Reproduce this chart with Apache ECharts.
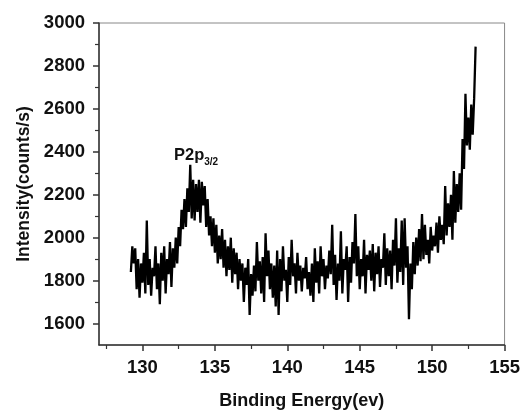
<!DOCTYPE html>
<html>
<head>
<meta charset="utf-8">
<script src="https://cdn.jsdelivr.net/npm/echarts@6/dist/echarts.min.js"></script>
<style>html,body{margin:0;padding:0;background:#fff}#c{width:523px;height:415px}</style>
</head>
<body>
<div id="c"></div>
<script>
// Binding energy start and step (eV)
var energyStart = 129.2;
var energyStep = 0.1;
// Intensity (counts/s), 129.2 .. 153.0 eV
var intensity = [
  1840, 1960, 1880, 1950, 1760, 1900, 1720, 1880,
  1790, 1930, 1740, 2080, 1780, 1900, 1730, 1860, 1820, 1960,
  1760, 1880, 1690, 1930, 1800, 1960, 1740, 1900, 1830, 1980,
  1770, 1950, 1860, 2000, 1880, 2050, 1960, 2130, 2040, 2180,
  2050, 2230, 2120, 2340, 2090, 2270, 2080, 2250, 2120, 2270,
  2070, 2260, 2150, 2240, 2050, 2180, 2010, 2100, 1960, 2090,
  1930, 2060, 1880, 2010, 1900, 2040, 1860, 1990, 1820, 1960,
  1850, 2000, 1790, 1950, 1830, 1930, 1760, 1900, 1800, 1880,
  1700, 1860, 1780, 1900, 1640, 1830, 1730, 1870, 1750, 1980,
  1800, 1890, 1740, 1910, 1700, 2020, 1820, 1940, 1760, 1880,
  1720, 1870, 1680, 1940, 1640, 1900, 1750, 1960, 1800, 1850,
  1700, 1910, 1780, 1990, 1820, 1880, 1740, 1930, 1800, 1870,
  1750, 1860, 1810, 1910, 1760, 1840, 1730, 1880, 1700, 1950,
  1790, 1890, 1740, 1960, 1820, 1900, 1760, 1870, 1810, 1940,
  1830, 2060, 1780, 1920, 1710, 1880, 1800, 2030, 1740, 1900,
  1850, 1960, 1700, 1910, 1790, 1980, 1880, 2110, 1820, 1960,
  1760, 1900, 1820, 1990, 1740, 1920, 1850, 1940, 1800, 1970,
  1750, 1930, 1830, 1960, 1770, 1900, 1860, 2020, 1780, 1950,
  1820, 1940, 1760, 1990, 1870, 2090, 1790, 1950, 1840, 2080,
  1780, 2090, 1860, 1960, 1620, 1880, 1760, 1980, 1830, 2000,
  1870, 2040, 1890, 2110, 1900, 2060, 1920, 1990, 1880, 2050,
  1940, 2010, 1960, 2070, 1930, 2100, 1990, 2060, 1970, 2240,
  2010, 2160, 2050, 2200, 1990, 2310, 2070, 2250, 2120, 2300,
  2130, 2460, 2320, 2670, 2430, 2560, 2410, 2620, 2480, 2650,
  2890
];
var xMajorTicks = [130, 135, 140, 145, 150, 155];
var xMinorTicks = [127.5, 132.5, 137.5, 142.5, 147.5, 152.5];
var yMajorTicks = [1600, 1800, 2000, 2200, 2400, 2600, 2800, 3000];
var yMinorTicks = [1700, 1900, 2100, 2300, 2500, 2700, 2900];
var xRange = [127, 155];
var yRange = [1500, 3000];
var peakLabel = 'P2p';
var peakSub = '3/2';
var xName = 'Binding Energy(ev)';
var yName = 'Intensity(counts/s)';

var points = intensity.map(function (v, i) {
  return [Math.round((energyStart + i * energyStep) * 100) / 100, v];
});

var FONT = '"Liberation Sans", Arial, sans-serif';
var plain = function (v) { return String(v); };
var chart = echarts.init(document.getElementById('c'), null, {renderer: 'canvas'});
chart.setOption({
  animation: false,
  backgroundColor: '#fff',
  grid: {left: 99, right: 17, top: 23, bottom: 61, show: true, borderColor: '#888', borderWidth: 1, backgroundColor: 'transparent'},
  xAxis: [{
    type: 'value', min: xRange[0], max: xRange[1], position: 'bottom',
    axisLine: {show: true, onZero: false, lineStyle: {color: '#333', width: 1.5}},
    axisTick: {show: true, inside: false, length: 6, customValues: xMajorTicks, lineStyle: {color: '#333', width: 1.5}},
    axisLabel: {show: true, customValues: xMajorTicks, formatter: plain, margin: 13, color: '#111', fontSize: 18.5, fontWeight: 'bold', fontFamily: FONT},
    splitLine: {show: false},
    name: xName, nameLocation: 'middle', nameGap: 47,
    nameTextStyle: {color: '#111', fontSize: 18, fontWeight: 'bold', fontFamily: FONT}
  }, {
    type: 'value', min: xRange[0], max: xRange[1], position: 'bottom',
    axisLine: {show: false},
    axisTick: {show: true, length: 4, customValues: xMinorTicks, lineStyle: {color: '#333', width: 1.2}},
    axisLabel: {show: false},
    splitLine: {show: false}
  }],
  yAxis: [{
    type: 'value', min: yRange[0], max: yRange[1], position: 'left',
    axisLine: {show: true, onZero: false, lineStyle: {color: '#333', width: 1.5}},
    axisTick: {show: true, length: 6, customValues: yMajorTicks, lineStyle: {color: '#333', width: 1.5}},
    axisLabel: {show: true, customValues: yMajorTicks, formatter: plain, margin: 14, color: '#111', fontSize: 18.5, fontWeight: 'bold', fontFamily: FONT},
    splitLine: {show: false},
    name: yName, nameLocation: 'middle', nameGap: 66,
    nameTextStyle: {color: '#111', fontSize: 17.5, fontWeight: 'bold', fontFamily: FONT}
  }, {
    type: 'value', min: yRange[0], max: yRange[1], position: 'left',
    axisLine: {show: false},
    axisTick: {show: true, length: 4, customValues: yMinorTicks, lineStyle: {color: '#333', width: 1.2}},
    axisLabel: {show: false},
    splitLine: {show: false}
  }],
  graphic: [{
    type: 'text', left: 174, top: 147,
    style: {
      text: '{a|' + peakLabel + '}{b|' + peakSub + '}',
      rich: {
        a: {fontSize: 16.5, fontWeight: 'bold', fontFamily: FONT, fill: '#111', lineHeight: 18, verticalAlign: 'top'},
        b: {fontSize: 10, fontWeight: 'bold', fontFamily: FONT, fill: '#111', padding: [10, 0, 0, 0], verticalAlign: 'top'}
      }
    }
  }],
  series: [{
    type: 'line', xAxisIndex: 0, yAxisIndex: 0, data: points,
    showSymbol: false, symbol: 'none',
    lineStyle: {color: '#000', width: 2.3},
    silent: true
  }]
});
</script>
</body>
</html>
